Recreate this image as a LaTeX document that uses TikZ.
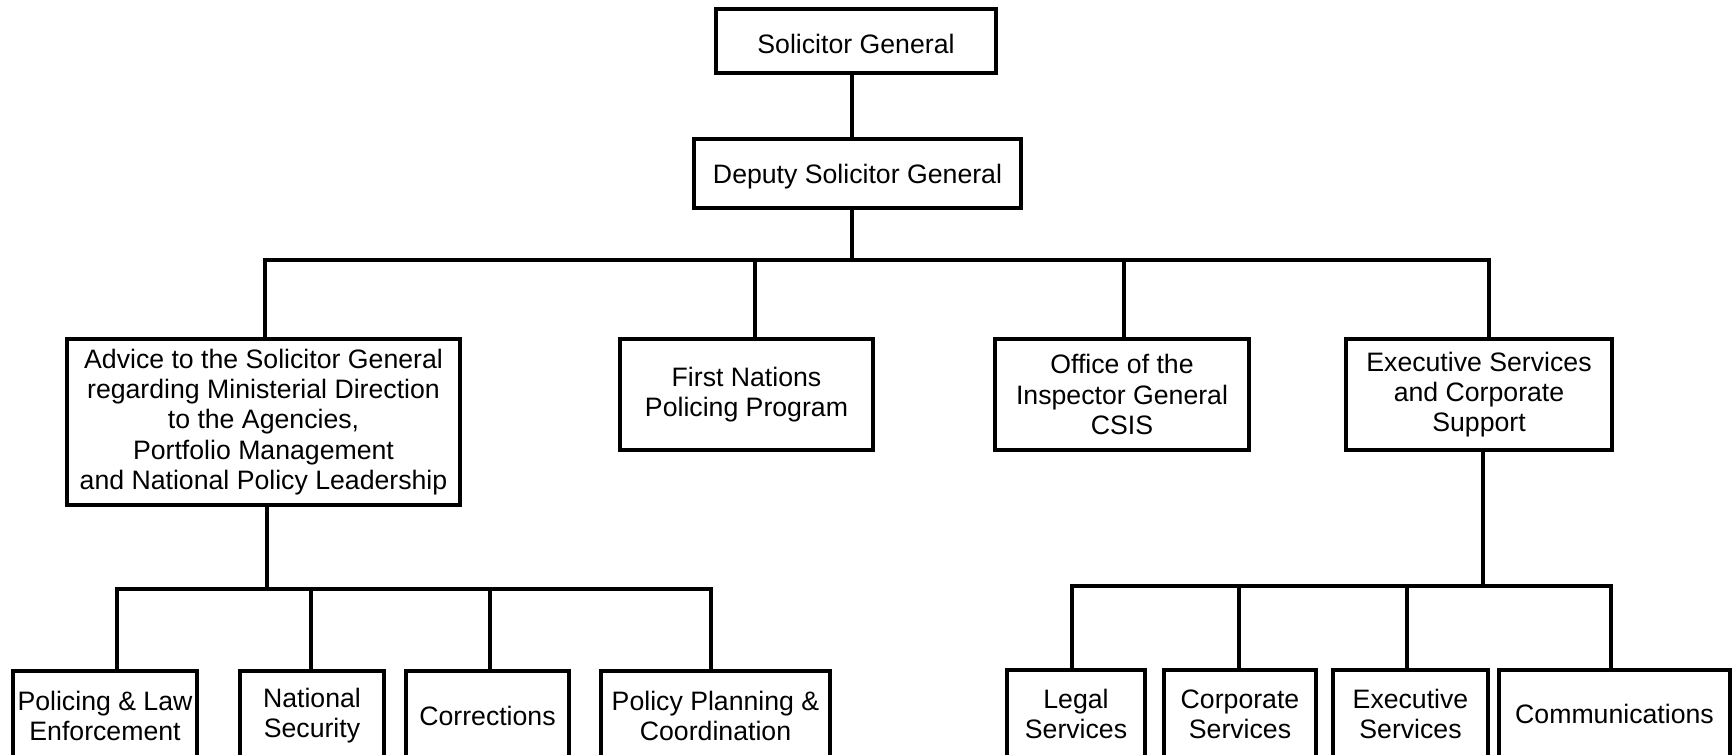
\documentclass[tikz,border=0pt]{standalone}
\usepackage{fontspec}
\setmainfont{Liberation Sans}
\begin{document}
\begin{tikzpicture}[x=0.75pt,y=-0.75pt,
  box/.style={draw=black,line width=2.4pt,rectangle,inner sep=0pt,align=center,
    font=\fontsize{20}{22.6}\selectfont},
  conn/.style={draw=black,line width=2.4pt,line join=miter}]
\useasboundingbox (0,0) rectangle (1733,755);
\clip (0,0) rectangle (1733,755);
% top
\node[box,minimum width=210pt,minimum height=48pt,text height=19pt,text depth=0pt] (sg) at (856,41) {Solicitor General};
\node[box,minimum width=245.25pt,minimum height=51.75pt,text height=18.6pt,text depth=4.2pt] (dsg) at (857.5,173.5) {Deputy Solicitor General};
% second level
\node[box,minimum width=294.75pt,minimum height=124.5pt] (adv) at (263.5,422) {Advice to the Solicitor General\\regarding Ministerial Direction\\to the Agencies,\\Portfolio Management\\and National Policy Leadership};
\node[box,minimum width=189.75pt,minimum height=83.25pt] (fn) at (746.5,394.5) {First Nations\\Policing Program};
\node[box,minimum width=190.5pt,minimum height=83.25pt] (oig) at (1122,394.5) {Office of the\\Inspector General\\CSIS};
\node[box,minimum width=199.5pt,minimum height=83.25pt] (es) at (1479,394.5) {Executive Services\\and Corporate\\Support};
% bottom left
\node[box,minimum width=138pt,minimum height=67.5pt] (pol) at (105,716) {Policing \& Law\\Enforcement};
\node[box,minimum width=108pt,minimum height=67.5pt] (ns) at (312,716) {National\\Security};
\node[box,minimum width=122.25pt,minimum height=67.5pt] (cor) at (487.5,716) {Corrections};
\node[box,minimum width=171.75pt,minimum height=67.5pt] (ppc) at (715.5,716) {Policy Planning \&\\Coordination};
% bottom right
\node[box,minimum width=103.5pt,minimum height=66pt] (leg) at (1076,714) {Legal\\Services};
\node[box,minimum width=114pt,minimum height=66pt] (cps) at (1240,714) {Corporate\\Services};
\node[box,minimum width=116.25pt,minimum height=66pt] (exs) at (1410.5,714) {Executive\\Services};
\node[box,minimum width=173.25pt,minimum height=66pt] (com) at (1614.5,714) {Communications};
% connector coordinates
\coordinate (c0) at (852,73);
\coordinate (b0) at (852,260);
\coordinate (d1) at (265,260);
\coordinate (d2) at (755,260);
\coordinate (d3) at (1124,260);
\coordinate (d4) at (1489,260);
\coordinate (la) at (267,589);
\coordinate (l1) at (117,589);
\coordinate (l2) at (311,589);
\coordinate (l3) at (490,589);
\coordinate (l4) at (711,589);
\coordinate (ra) at (1483,586);
\coordinate (r1) at (1072,586);
\coordinate (r2) at (1239,586);
\coordinate (r3) at (1407,586);
\coordinate (r4) at (1611,586);
% connectors
\draw[conn] (c0 |- sg.south) -- (c0 |- dsg.north);
\draw[conn] (c0 |- dsg.south) -- (b0);
\draw[conn] (d1 |- adv.north) -- (d1) -- (d4) -- (d4 |- es.north);
\draw[conn] (d2) -- (d2 |- fn.north);
\draw[conn] (d3) -- (d3 |- oig.north);
\draw[conn] (la |- adv.south) -- (la);
\draw[conn] (l1 |- pol.north) -- (l1) -- (l4) -- (l4 |- ppc.north);
\draw[conn] (l2) -- (l2 |- ns.north);
\draw[conn] (l3) -- (l3 |- cor.north);
\draw[conn] (ra |- es.south) -- (ra);
\draw[conn] (r1 |- leg.north) -- (r1) -- (r4) -- (r4 |- com.north);
\draw[conn] (r2) -- (r2 |- cps.north);
\draw[conn] (r3) -- (r3 |- exs.north);
\end{tikzpicture}
\end{document}
